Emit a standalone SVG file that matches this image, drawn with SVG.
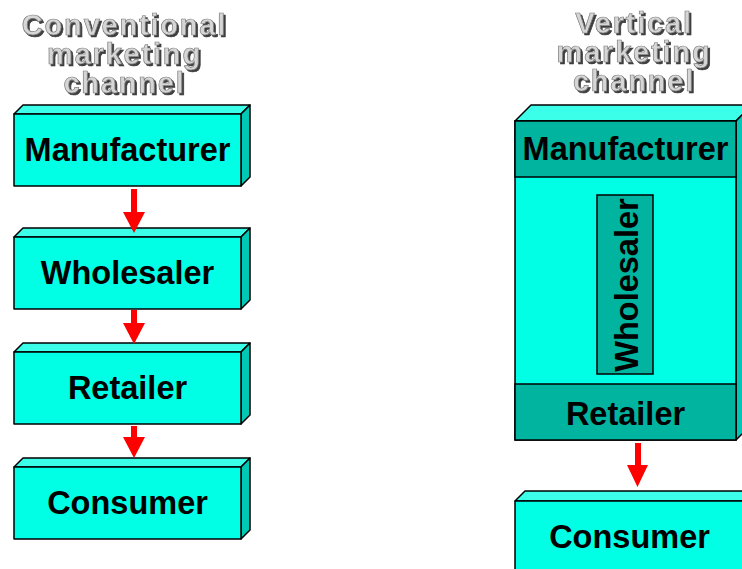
<svg xmlns="http://www.w3.org/2000/svg" width="742" height="569" viewBox="0 0 742 569">
<defs>
<filter id="ds" x="-10%" y="-20%" width="120%" height="150%">
<feDropShadow dx="2" dy="2" stdDeviation="0.4" flood-color="#2a2a2a" flood-opacity="0.9"/>
</filter>
</defs>
<style>
.front{fill:#00FFE4;stroke:#000;stroke-width:1.5;stroke-linejoin:round}
.top{fill:#3CFFEA;stroke:#000;stroke-width:1.5;stroke-linejoin:round}
.side{fill:#00C8B4;stroke:#000;stroke-width:1.5;stroke-linejoin:round}
.band{fill:#00B4A0;stroke:#000;stroke-width:1.5}
.lbl{font-family:"Liberation Sans",Arial,sans-serif;font-weight:bold;font-size:32.5px;fill:#000;text-anchor:middle}
.ttl{font-family:"Liberation Sans",Arial,sans-serif;font-weight:bold;font-size:29px;text-anchor:middle;letter-spacing:1.8px;fill:#D6D6D6;stroke:#7a7a7a;stroke-width:0.7;filter:url(#ds)}
.arrow{fill:#FF0000}
</style>
<rect width="742" height="569" fill="#fff"/>
<g id="title-conventional">
<text class="ttl" x="124.5" y="35">Conventional</text>
<text class="ttl" x="124.5" y="64">marketing</text>
<text class="ttl" x="124.5" y="93">channel</text>
</g>
<g id="title-vertical">
<text class="ttl" x="634" y="33">Vertical</text>
<text class="ttl" x="634" y="62">marketing</text>
<text class="ttl" x="634" y="91">channel</text>
</g>
<g id="manufacturer">
<polygon class="top" points="14,114 23,105 250,105 241,114"/>
<polygon class="side" points="241,114 250,105 250,177 241,186"/>
<rect class="front" x="14" y="114" width="227" height="72"/>
<text class="lbl" x="127.5" y="161">Manufacturer</text>
</g>
<g id="wholesaler">
<polygon class="top" points="14,237 23,228 250,228 241,237"/>
<polygon class="side" points="241,237 250,228 250,300 241,309"/>
<rect class="front" x="14" y="237" width="227" height="72"/>
<text class="lbl" x="127.5" y="284">Wholesaler</text>
</g>
<g id="retailer">
<polygon class="top" points="14,352 23,343 250,343 241,352"/>
<polygon class="side" points="241,352 250,343 250,415 241,424"/>
<rect class="front" x="14" y="352" width="227" height="72"/>
<text class="lbl" x="127.5" y="399">Retailer</text>
</g>
<g id="consumer">
<polygon class="top" points="14,467 23,458 250,458 241,467"/>
<polygon class="side" points="241,467 250,458 250,530 241,539"/>
<rect class="front" x="14" y="467" width="227" height="72"/>
<text class="lbl" x="127.5" y="514">Consumer</text>
</g>
<g id="vertical-system">
<polygon class="top" points="515,121 531,105 752,105 736,121"/>
<polygon class="side" points="736,121 752,105 752,424 736,440"/>
<rect class="front" x="515" y="121" width="221" height="319"/>
<g id="vms-manufacturer">
<rect class="band" x="515" y="121" width="221" height="56"/>
<text class="lbl" x="625.5" y="160">Manufacturer</text>
</g>
<g id="vms-wholesaler">
<rect class="band" x="597" y="195" width="56" height="179"/>
<text class="lbl" transform="translate(638,285) rotate(-90)" x="0" y="0">Wholesaler</text>
</g>
<g id="vms-retailer">
<rect class="band" x="515" y="384" width="221" height="56"/>
<text class="lbl" x="625.5" y="425">Retailer</text>
</g>
</g>
<g id="vms-consumer">
<polygon class="top" points="515,501 525,491 753,491 743,501"/>
<rect class="front" x="515" y="501" width="228" height="72"/>
<text class="lbl" x="629.5" y="548">Consumer</text>
</g>
<g id="connectors">
<polygon class="arrow" points="131,189 137,189 137,212 145,212 134,233 123,212 131,212"/>
<polygon class="arrow" points="131,310 137,310 137,323 145,323 134,344 123,323 131,323"/>
<polygon class="arrow" points="131,426 137,426 137,437 145,437 134,458 123,437 131,437"/>
<polygon class="arrow" points="635,443 641,443 641,465 648,465 637.5,487 627,465 635,465"/>
</g>
</svg>
